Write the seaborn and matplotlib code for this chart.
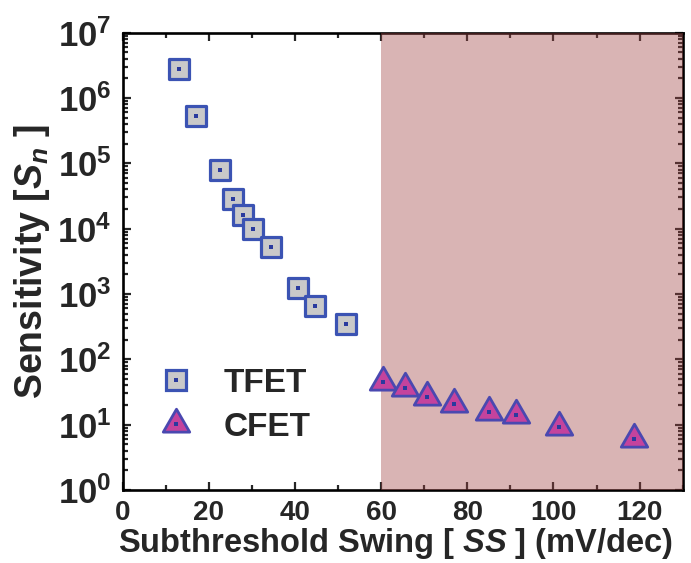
import numpy as np
import matplotlib
matplotlib.use('Agg')
import matplotlib.pyplot as plt
import seaborn as sns
from matplotlib.path import Path
from matplotlib.ticker import MultipleLocator, LogLocator, NullFormatter

sns.set_style('ticks')
plt.rcParams['font.family'] = ['Liberation Sans', 'DejaVu Sans']
plt.rcParams['font.weight'] = 'bold'
plt.rcParams['mathtext.fontset'] = 'custom'
plt.rcParams['mathtext.rm'] = 'Liberation Sans:bold'
plt.rcParams['mathtext.bf'] = 'Liberation Sans:bold'
plt.rcParams['mathtext.it'] = 'Liberation Sans:italic:bold'

# data
tfet_ss = [13.1, 17.0, 22.5, 25.5, 27.9, 30.2, 34.4, 40.8, 44.7, 51.9]
tfet_sn = [2.8e6, 5.3e5, 7.9e4, 2.8e4, 1.6e4, 1.0e4, 5.3e3, 1.23e3, 660, 345]
cfet_ss = [60.5, 65.6, 70.6, 77.0, 85.0, 91.2, 101.2, 118.7]
cfet_sn = [45.6, 36, 26.8, 20.7, 15.8, 13.9, 9.1, 6.1]
shade_from = 60
x_ticks = [0, 20, 40, 60, 80, 100, 120]
y_exps = [0, 1, 2, 3, 4, 5, 6, 7]

COLORS = {
    'sq_fill': '#c9c9c9',
    'sq_edge': '#3b53b3',
    'tri_fill': '#c4439d',
    'tri_edge': '#4a48b0',
    'dot': '#2a3a9e',
    'shade': '#a04545',
}

# triangle with its centroid on the data point
tri = Path([(0, 2 / 3), (-0.577, -1 / 3), (0.577, -1 / 3), (0, 2 / 3)],
           [Path.MOVETO, Path.LINETO, Path.LINETO, Path.CLOSEPOLY])

fig = plt.figure(figsize=(6.91, 5.63), dpi=100)
ax = fig.add_axes([0.1776, 0.1297, 0.8104, 0.8123])

ax.axvspan(shade_from, 130, color=COLORS['shade'], alpha=0.4, lw=0, zorder=2.7)

sns.scatterplot(x=tfet_ss, y=tfet_sn, marker='s', s=14.5 ** 2,
                color=COLORS['sq_fill'], edgecolor=COLORS['sq_edge'],
                linewidth=2.3, zorder=3, ax=ax)
sns.scatterplot(x=cfet_ss, y=cfet_sn, marker=tri, s=22 ** 2,
                color=COLORS['tri_fill'], edgecolor=COLORS['tri_edge'],
                linewidth=2.0, zorder=3, ax=ax)
sns.scatterplot(x=tfet_ss + cfet_ss, y=tfet_sn + cfet_sn, marker='s', s=2.2 ** 2,
                color=COLORS['dot'], linewidth=0, zorder=4, ax=ax)

ax.set_yscale('log')
ax.set_xlim(0, 130)
ax.set_ylim(1, 1e7)

ax.set_xticks(x_ticks)
ax.set_xticklabels([str(v) for v in x_ticks], fontsize=20, fontweight='bold')
ax.xaxis.set_minor_locator(MultipleLocator(10))
ax.set_yticks([10.0 ** e for e in y_exps])
ax.set_yticklabels([r'$\mathbf{10^{%d}}$' % e for e in y_exps], fontsize=25)
ax.yaxis.set_minor_locator(LogLocator(base=10, subs=np.arange(2, 10), numticks=20))
ax.yaxis.set_minor_formatter(NullFormatter())

ax.tick_params(which='both', direction='in', top=True, right=True, width=1.6)
ax.tick_params(which='major', length=6)
ax.tick_params(which='minor', length=3.5)
ax.tick_params(axis='x', which='major', pad=7)
ax.tick_params(axis='y', which='major', pad=8)
for sp in ax.spines.values():
    sp.set_linewidth(1.9)
    sp.set_color('black')

ax.set_xlabel(r'Subthreshold Swing [ $SS$ ] (mV/dec)', fontsize=23.5,
              fontweight='bold', labelpad=0)
ax.xaxis.label.set_x(0.487)
ax.set_ylabel(r'Sensitivity [$S_n$ ]', fontsize=27, fontweight='bold', labelpad=4)
ax.grid(False)

h_sq = plt.Line2D([], [], ls='none', marker='s', ms=14.5, mfc=COLORS['sq_fill'],
                  mec=COLORS['sq_edge'], mew=2.3)
h_tri = plt.Line2D([], [], ls='none', marker=tri, ms=22, mfc=COLORS['tri_fill'],
                   mec=COLORS['tri_edge'], mew=2.0)
h_dot = plt.Line2D([], [], ls='none', marker='s', ms=2.2, mfc=COLORS['dot'], mew=0)
ax.legend([(h_sq, h_dot), (h_tri, h_dot)], ['TFET', 'CFET'],
          loc='center left', bbox_to_anchor=(0.03, 0.185), frameon=False,
          prop={'size': 24, 'weight': 'bold'}, handlelength=1.2,
          handletextpad=0.82, labelspacing=0.38, borderpad=0)

fig.savefig('out.png', dpi=100)
